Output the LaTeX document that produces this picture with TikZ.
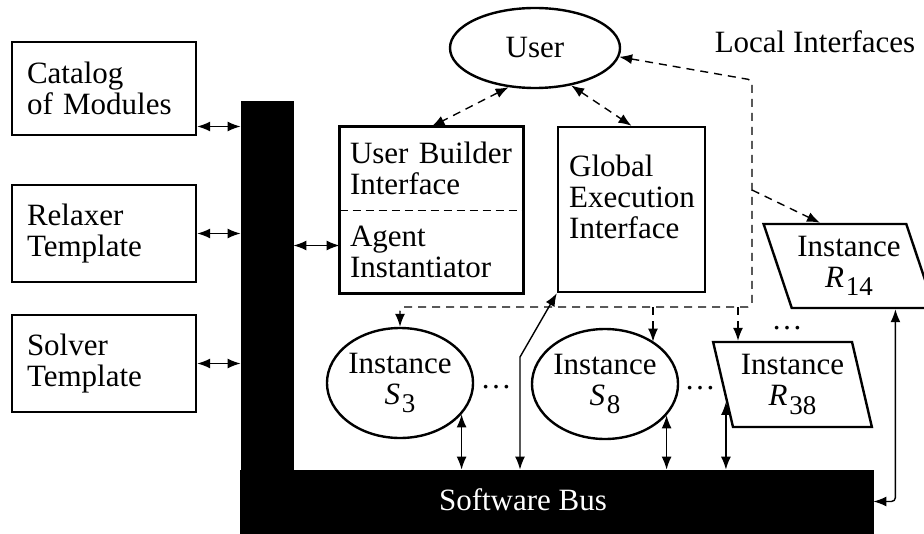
\documentclass[tikz,border=0pt]{standalone}
\usepackage{fontspec}
\setmainfont{Liberation Serif}
\usetikzlibrary{arrows.meta, shapes.geometric, positioning, calc}
\newcommand{\instname}[2]{\textit{#1}\kern0.8pt\raisebox{-0.6ex}{\fontsize{13.5}{13.5}\selectfont #2}}

\begin{document}
\begin{tikzpicture}[x=0.5pt, y=-0.5pt,
  every node/.style={font=\fontsize{15.5}{15.5}\selectfont},
  module/.style={draw, line width=1.2pt, minimum width=92pt, text width=77pt,
                 inner xsep=0pt, align=left},
  frame/.style={draw, line width=1.2pt},
  half/.style={minimum width=91.5pt, minimum height=41.5pt, text width=81.5pt,
               inner xsep=5pt, align=left},
  blob/.style={draw, ellipse, line width=1.2pt, inner sep=0pt, minimum width=73pt,
               minimum height=55pt, align=center},
  slab/.style={draw, trapezium, line width=1.2pt, inner sep=0pt,
               trapezium stretches=true, align=center},
  busbar/.style={fill=black, draw=black, inner sep=0pt},
  link/.style={line width=0.7pt, {Latex[length=6.5pt,width=5pt]}-{Latex[length=6.5pt,width=5pt]}},
  ctrl/.style={line width=0.7pt, dash pattern=on 4pt off 3pt},
  tip/.style={-{Latex[length=6.5pt,width=5pt]}}]

  \useasboundingbox (0,0) rectangle (924,534);

  \node[busbar, minimum width=26pt, minimum height=185pt] (vbar) at (267,286) {};
  \node[busbar, minimum width=316.5pt, minimum height=31.5pt] (bus) at (556.5,501.5) {};
  \node[text=white] (bustxt) at (523,500) {Software Bus};

  \node[module, minimum height=46.5pt] (cat) at (104,88.5) {Catalog\\\mbox{of Modules}};
  \node[module, minimum height=48.5pt] (rel) at (104,233.5) {Relaxer\\Template};
  \node[module, minimum height=48.5pt] (sol) at (104,363.5) {Solver\\Template};

  \node[blob, minimum width=85pt, minimum height=40pt] (user) at (535,48) {User};
  \node (local) at (815,42) {Local Interfaces};

  \node[half] (ubi) at (431.5,168.5) {\mbox{User Builder}\\Interface};
  \node[half] (agent) at (431.5,251.5) {Agent\\Instantiator};
  \draw[frame] (ubi.north west) rectangle (agent.south east);
  \draw[line width=0.7pt, dash pattern=on 4pt off 2.5pt] (ubi.south west) -- (ubi.south east);

  \node[frame, minimum width=73.5pt, minimum height=82.5pt] (glob) at (631.5,209.5) {};
  \node[anchor=north west, align=left, inner sep=0pt] (globtxt)
    at ([xshift=6pt, yshift=-14.5pt]glob.north west) {Global\\Execution\\Interface};

  \node[blob] (s3) at (400,383) {Instance\\\instname{S}{3}};
  \node[blob] (s8) at (605,384) {Instance\\\instname{S}{8}};
  \node[slab, trapezium left angle=106, trapezium right angle=74,
        minimum width=79.5pt, minimum height=42.5pt] (r38) at (792.5,384.5)
    {Instance\\\instname{R}{38}};
  \node[slab, trapezium left angle=113, trapezium right angle=67,
        minimum width=86pt, minimum height=42pt] (r14) at (849,266)
    {Instance\\\instname{R}{14}};

  \node (dotsa) at (496,387) {\dots};
  \node (dotsb) at (700,388) {\dots};
  \node (dotsc) at (787,328) {\dots};

  \coordinate (catp) at ([yshift=-19pt]cat.east);
  \draw[link] (catp) -- (catp -| vbar.west);
  \draw[link] (rel.east) -- (rel.east -| vbar.west);
  \draw[link] (sol.east) -- (sol.east -| vbar.west);
  \coordinate (agp) at ([yshift=3pt]agent.west);
  \draw[link] (agp -| vbar.east) -- (agp);

  \draw[ctrl, link] (user.236) -- (ubi.north);
  \draw[ctrl, link] (user.314) -- (glob.north);

  \coordinate (ctla) at (752,80);
  \coordinate (ctlb) at (752,307);
  \coordinate (b14) at (752,190);
  \coordinate (b8) at (653,307);
  \coordinate (b38) at (738,307);
  \draw[ctrl, link, rounded corners=2pt] (user.354) -- (ctla) -- (ctlb)
    -- (ctlb -| s3.north) -- (s3.north);
  \draw[ctrl, tip] (b14) -- ($(r14.top left corner)!0.4!(r14.top right corner)$);
  \draw[ctrl, tip] (b8) -- (b8 |- s8.41);
  \draw[ctrl, tip] (b38) -- (b38 |- r38.top side);

  \draw[link] (s3.333) -- (s3.333 |- bus.north);
  \draw[link] (s8.333) -- (s8.333 |- bus.north);
  \coordinate (p38) at ($(r38.bottom left corner)!0.3!(r38.top left corner)$);
  \draw[link] (p38) -- (p38 |- bus.north);
  \coordinate (gbend) at (520,357);
  \draw[link] (glob.south west) -- (gbend) -- (gbend |- bus.north);
  \coordinate (p14) at ($(r14.bottom left corner)!0.72!(r14.bottom right corner)$);
  \draw[link, rounded corners=2pt] (p14) |- (bus.east);
\end{tikzpicture}
\end{document}
